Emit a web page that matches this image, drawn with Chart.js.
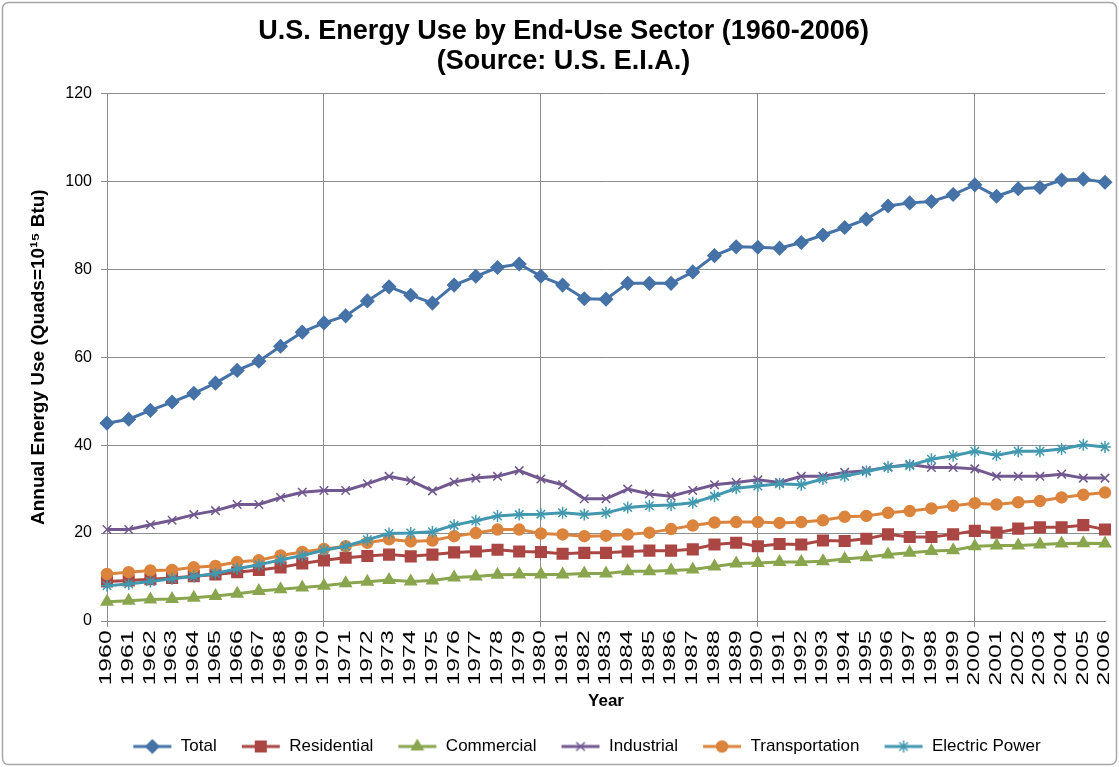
<!DOCTYPE html>
<html>
<head>
<meta charset="utf-8">
<title>U.S. Energy Use by End-Use Sector</title>
<script src="https://cdn.jsdelivr.net/npm/chart.js@4.4.1/dist/chart.umd.min.js"></script>
<style>
  html, body { margin: 0; padding: 0; background: #fff; }
  #wrap { width: 1119px; height: 767px; }
</style>
</head>
<body>
<div id="wrap"><canvas id="energyChart" width="1119" height="767"></canvas></div>
<script>
/* DATA (quads) */
const years = [
  "1960", "1961", "1962", "1963", "1964", "1965", "1966", "1967", "1968", "1969",
  "1970", "1971", "1972", "1973", "1974", "1975", "1976", "1977", "1978", "1979",
  "1980", "1981", "1982", "1983", "1984", "1985", "1986", "1987", "1988", "1989",
  "1990", "1991", "1992", "1993", "1994", "1995", "1996", "1997", "1998", "1999",
  "2000", "2001", "2002", "2003", "2004", "2005", "2006"
];

const total = [
  45.0, 45.9, 47.9, 49.8, 51.8, 54.1, 57.0, 59.1, 62.5, 65.7,
  67.8, 69.4, 72.8, 76.0, 74.1, 72.3, 76.4, 78.4, 80.4, 81.2,
  78.4, 76.4, 73.3, 73.2, 76.8, 76.8, 76.8, 79.4, 83.1, 85.1,
  85.0, 84.8, 86.1, 87.8, 89.5, 91.4, 94.4, 95.1, 95.4, 97.0,
  99.2, 96.6, 98.3, 98.6, 100.3, 100.5, 99.8
];

const residential = [
  9.0, 9.2, 9.5, 9.8, 10.2, 10.6, 11.1, 11.6, 12.2, 13.1,
  13.8, 14.4, 14.8, 15.1, 14.7, 15.1, 15.6, 15.8, 16.2, 15.8,
  15.7, 15.3, 15.5, 15.5, 15.8, 16.0, 16.0, 16.3, 17.4, 17.8,
  17.0, 17.5, 17.4, 18.3, 18.2, 18.7, 19.7, 19.1, 19.1, 19.7,
  20.5, 20.1, 21.0, 21.3, 21.3, 21.8, 20.8
];

const commercial = [
  4.4, 4.6, 4.9, 5.0, 5.3, 5.7, 6.2, 6.8, 7.2, 7.6,
  8.0, 8.6, 8.9, 9.3, 9.0, 9.2, 9.9, 10.1, 10.5, 10.6,
  10.6, 10.6, 10.8, 10.8, 11.3, 11.3, 11.5, 11.7, 12.4, 13.1,
  13.2, 13.4, 13.4, 13.6, 14.1, 14.5, 15.1, 15.5, 15.9, 16.1,
  17.0, 17.2, 17.2, 17.4, 17.6, 17.7, 17.6
];

const industrial = [
  20.8, 20.8, 21.9, 22.9, 24.2, 25.1, 26.5, 26.5, 28.1, 29.3,
  29.7, 29.7, 31.2, 32.9, 31.9, 29.6, 31.6, 32.5, 32.9, 34.2,
  32.3, 31.0, 27.8, 27.8, 30.0, 28.9, 28.4, 29.7, 31.0, 31.5,
  32.1, 31.5, 32.9, 32.9, 33.8, 34.2, 35.0, 35.6, 34.9, 34.9,
  34.6, 32.9, 32.9, 32.9, 33.4, 32.5, 32.5
];

const transportation = [
  10.7, 11.1, 11.5, 11.6, 12.2, 12.5, 13.4, 13.8, 14.9, 15.7,
  16.4, 17.0, 17.8, 18.6, 18.1, 18.3, 19.3, 20.0, 20.8, 20.8,
  19.9, 19.7, 19.3, 19.4, 19.7, 20.1, 20.9, 21.7, 22.4, 22.5,
  22.5, 22.3, 22.5, 22.9, 23.7, 23.9, 24.6, 25.0, 25.6, 26.2,
  26.8, 26.5, 27.0, 27.3, 28.1, 28.7, 29.2
];

const electricPower = [
  8.0, 8.4, 9.0, 9.6, 10.1, 10.8, 11.9, 12.8, 13.9, 14.9,
  16.1, 17.0, 18.5, 19.9, 20.0, 20.3, 21.8, 22.8, 23.9, 24.2,
  24.3, 24.6, 24.2, 24.6, 25.8, 26.2, 26.4, 26.9, 28.4, 30.2,
  30.7, 31.2, 31.0, 32.3, 32.9, 34.0, 35.0, 35.4, 36.8, 37.6,
  38.6, 37.7, 38.6, 38.6, 39.1, 40.1, 39.6
];

const seriesNames = ["Total", "Residential", "Commercial", "Industrial", "Transportation", "Electric Power"];
const seriesValues = [total, residential, commercial, industrial, transportation, electricPower];

/* STYLES */
const seriesColors = ["#4572A7", "#AA4643", "#89A54E", "#71588F", "#DB843D", "#4198AF"];
const seriesPoints = ["rectRot", "rect", "triangle", "crossRot", "circle", "star"];
const seriesRadius = [6.5, 7.5, 6.5, 6, 5.5, 6];

const FONT = "'Liberation Sans', Arial, sans-serif";
const LABEL_STRETCH = 1.55; // year labels in the original are drawn tall
Chart.defaults.font.family = FONT;
Chart.defaults.color = "#000";

/* LEGEND ICONS: line with marker in the middle */
function makeLegendIcon(i) {
  const c = document.createElement("canvas");
  c.width = 40;
  c.height = 16;
  const g = c.getContext("2d");
  g.strokeStyle = seriesColors[i];
  g.fillStyle = seriesColors[i];
  g.lineWidth = 3;
  g.beginPath();
  g.moveTo(1, 8);
  g.lineTo(39, 8);
  g.stroke();
  g.lineWidth = 1.5;
  Chart.helpers.drawPoint(g, {
    pointStyle: seriesPoints[i],
    radius: seriesRadius[i],
    borderWidth: 1.5,
    rotation: 0
  }, 20, 8);
  return c;
}

const legendIcons = seriesNames.map((_, i) => makeLegendIcon(i));

/* BORDER + BACKGROUND */
const frame = {
  id: "frame",
  beforeDraw(chart) {
    const ctx = chart.ctx;
    ctx.save();
    ctx.fillStyle = "#fff";
    ctx.fillRect(0, 0, chart.width, chart.height);
    ctx.strokeStyle = "#a6a6a6";
    ctx.lineWidth = 1.5;
    ctx.beginPath();
    ctx.roundRect(2.5, 2.5, chart.width - 5, chart.height - 5, 6);
    ctx.stroke();
    ctx.restore();
  }
};

/* TALL YEAR LABELS */
const stretchXLabels = {
  id: "stretchXLabels",
  afterUpdate(chart) {
    const sx = chart.scales.x;
    if (!sx || sx._stretched) return;
    const proto = Object.getPrototypeOf(sx);
    sx.drawLabels = function (area) {
      const ctx = this.ctx;
      ctx.save();
      ctx.translate(0, this.top);
      ctx.scale(1, LABEL_STRETCH);
      ctx.translate(0, -this.top);
      proto.drawLabels.call(this, area);
      ctx.restore();
    };
    sx._stretched = true;
  }
};

/* LEGEND + TITLE POSITION (both sit a bit right of centre in the original) */
const nudgeBoxes = {
  id: "nudgeBoxes",
  afterLayout(chart) {
    const lg = chart.legend;
    lg.left += 27;
    lg.right += 27;
    lg.top += 4;
    lg.bottom += 4;
    const tb = chart.titleBlock;
    if (tb) {
      tb.left += 4;
      tb.right += 4;
    }
  }
};

/* CHART */
const datasets = seriesNames.map((name, i) => ({
  label: name,
  data: seriesValues[i],
  borderColor: seriesColors[i],
  backgroundColor: seriesColors[i],
  borderWidth: 3,
  pointStyle: seriesPoints[i],
  pointRadius: seriesRadius[i],
  pointHoverRadius: seriesRadius[i],
  pointBorderWidth: 1.5,
  pointBackgroundColor: seriesColors[i],
  pointBorderColor: seriesColors[i],
  tension: 0,
  order: seriesNames.length - i
}));

new Chart(document.getElementById("energyChart"), {
  type: "line",
  data: { labels: years, datasets },
  plugins: [frame, stretchXLabels, nudgeBoxes],
  options: {
    responsive: false,
    devicePixelRatio: 1,
    animation: false,
    layout: { padding: { top: 4, left: 14, right: 14, bottom: 6 } },
    plugins: {
      title: {
        display: true,
        text: ["U.S. Energy Use by End-Use Sector (1960-2006)", "(Source: U.S. E.I.A.)"],
        font: { size: 27, weight: "bold", family: FONT, lineHeight: 1.1 },
        color: "#000",
        padding: { top: 13, bottom: 17 }
      },
      legend: {
        position: "bottom",
        labels: {
          usePointStyle: true,
          pointStyleWidth: 40,
          padding: 24,
          font: { size: 17, family: FONT },
          color: "#000",
          sort: (a, b) => a.datasetIndex - b.datasetIndex,
          generateLabels(chart) {
            return chart.data.datasets.map((ds, i) => ({
              text: ds.label,
              datasetIndex: i,
              pointStyle: legendIcons[i],
              fillStyle: seriesColors[i],
              strokeStyle: seriesColors[i],
              lineWidth: 0,
              hidden: !chart.isDatasetVisible(i)
            }));
          }
        }
      },
      tooltip: { enabled: false }
    },
    scales: {
      x: {
        type: "category",
        offset: false,
        afterFit(scale) {
          scale.height = 89;
          scale.paddingLeft = 0;
          scale.paddingRight = 0;
        },
        grid: {
          color: ctx => (ctx.index % 10 === 0 ? "#8c8c8c" : "rgba(0,0,0,0)"),
          lineWidth: 1,
          tickLength: 6
        },
        border: { color: "#8c8c8c" },
        ticks: {
          autoSkip: false,
          maxRotation: 90,
          minRotation: 90,
          padding: 0,
          font: { size: 16, family: FONT },
          color: "#000"
        },
        title: {
          display: true,
          text: "Year",
          font: { size: 17, weight: "bold", family: FONT },
          color: "#000",
          padding: { top: 0, bottom: -2 }
        }
      },
      y: {
        min: 0,
        max: 120,
        afterFit(scale) { scale.width = 93; },
        ticks: {
          stepSize: 20,
          padding: 9,
          font: { size: 16, family: FONT },
          color: "#000"
        },
        grid: { color: "#8c8c8c", lineWidth: 1, tickLength: 6 },
        border: { color: "#8c8c8c" },
        title: {
          display: true,
          text: "Annual Energy Use (Quads=10\u00B9\u2075 Btu)",
          font: { size: 19, weight: "bold", family: FONT },
          color: "#000",
          padding: { top: 13, bottom: 0 }
        }
      }
    }
  }
});
</script>
</body>
</html>
